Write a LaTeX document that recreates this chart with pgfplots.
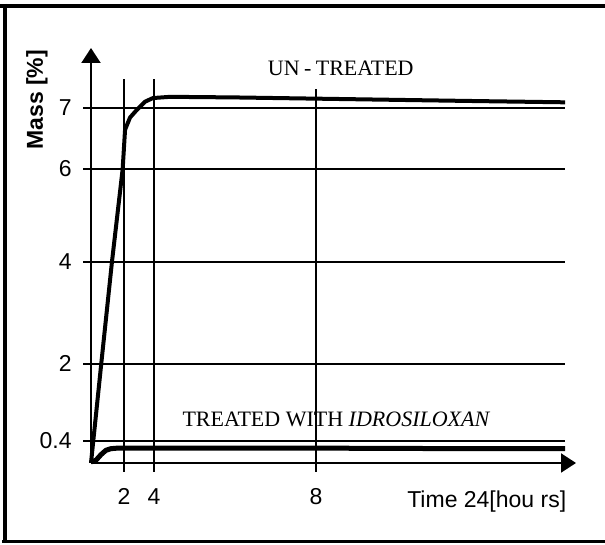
\documentclass[border=0pt]{standalone}
\usepackage{pgfplots}
\pgfplotsset{compat=1.18}
\usetikzlibrary{arrows.meta}
\usepackage{fontspec}
\setmainfont{Liberation Serif}
\newfontfamily\arial{Liberation Sans}
\begin{document}
\begin{tikzpicture}
\useasboundingbox (0,0) rectangle (302.5pt,272.5pt);
% scanned frame (left, top, bottom)
\draw[line width=2pt] (0pt,269.5pt) -- (302.5pt,269.5pt);
\draw[line width=2pt] (2.25pt,270.5pt) -- (2.25pt,1.75pt);
\draw[line width=1.5pt] (1pt,1.75pt) -- (302.5pt,1.75pt);
\begin{axis}[
  at={(45.5pt,41pt)}, anchor=south west,
  scale only axis, width=242.5pt, height=207.5pt,
  xmin=0, xmax=14.42, ymin=0, ymax=7.98,
  x coord trafo/.code={\pgfmathparse{ifthenelse(#1<2,16.5*(#1),ifthenelse(#1<4,33+15*((#1)-2),63+40.5*((#1)-4)))}},
  y coord trafo/.code={\pgfmathparse{ifthenelse(#1<0.4,55*(#1),ifthenelse(#1<2,22+48.125*((#1)-0.4),ifthenelse(#1<4,99+51*((#1)-2),ifthenelse(#1<6,201+46.5*((#1)-4),294+61*((#1)-6)))))}},
  axis x line*=bottom, axis y line*=left,
  axis line style={line width=1pt, -{Triangle[length=7.5pt,width=9.5pt]}},
  major tick length=0pt,
  xtick={2,4,8}, xticklabels={2,4,8},
  ytick={0.4,2,4,6,7}, yticklabels={0.4,2,4,6,7},
  ticklabel style={font=\arial\fontsize{11.5}{13}\selectfont},
  xticklabel style={anchor=north, inner sep=0pt, yshift=-12.5pt},
  yticklabel style={anchor=east, inner sep=0pt, xshift=-9.5pt},
  xlabel={Time 24[hou\ rs]},
  xlabel style={at={(rel axis cs:0.816,0)}, anchor=north, inner sep=0pt, yshift=-13.5pt, font=\arial\fontsize{11.5}{13}\selectfont},
  ylabel={Mass [\%]},
  ylabel style={at={([xshift=-27pt]rel axis cs:0,0.875)}, anchor=center, font=\arial\bfseries\fontsize{11.5}{13}\selectfont},
  clip=false,
]
% grid lines
\addplot[line width=0.8pt, forget plot] coordinates {(-0.48,0.4) (14.15,0.4)};
\addplot[line width=0.8pt, forget plot] coordinates {(-0.48,2) (14.15,2)};
\addplot[line width=0.8pt, forget plot] coordinates {(-0.48,4) (14.15,4)};
\addplot[line width=0.8pt, forget plot] coordinates {(-0.48,6) (14.15,6)};
\addplot[line width=0.8pt, forget plot] coordinates {(-0.48,7) (14.15,7)};
\addplot[line width=0.7pt, forget plot] coordinates {(2,-0.16) (2,7.48)};
\addplot[line width=0.7pt, forget plot] coordinates {(4,-0.16) (4,7.48)};
\addplot[line width=0.7pt, forget plot] coordinates {(8,-0.16) (8,7.3)};
% un-treated
\addplot[line width=2pt, line join=round] coordinates {
 (0,0) (0.62,2) (1.27,4) (1.92,6) (2.07,6.64) (2.4,6.84) (2.87,6.97)
 (3.4,7.1) (3.93,7.16) (4.4,7.18) (6,7.17) (8,7.15) (10,7.13) (12,7.11) (14.15,7.09)};
% treated
\addplot[line width=2.5pt, line join=round] coordinates {
 (0,0.02) (0.3,0.05) (0.6,0.15) (0.9,0.23) (1.2,0.26) (1.6,0.27) (2,0.27)
 (4,0.27) (8,0.27) (12,0.26) (14.15,0.26)};
\node[font=\fontsize{11}{13}\selectfont] at (rel axis cs:0.515,0.952) {UN\hspace{0.2em}-\hspace{0.2em}TREATED};
\node[font=\fontsize{11}{13}\selectfont] at (rel axis cs:0.506,0.106) {TREATED WITH \textit{IDROSILOXAN}};
\end{axis}
\end{tikzpicture}
\end{document}
